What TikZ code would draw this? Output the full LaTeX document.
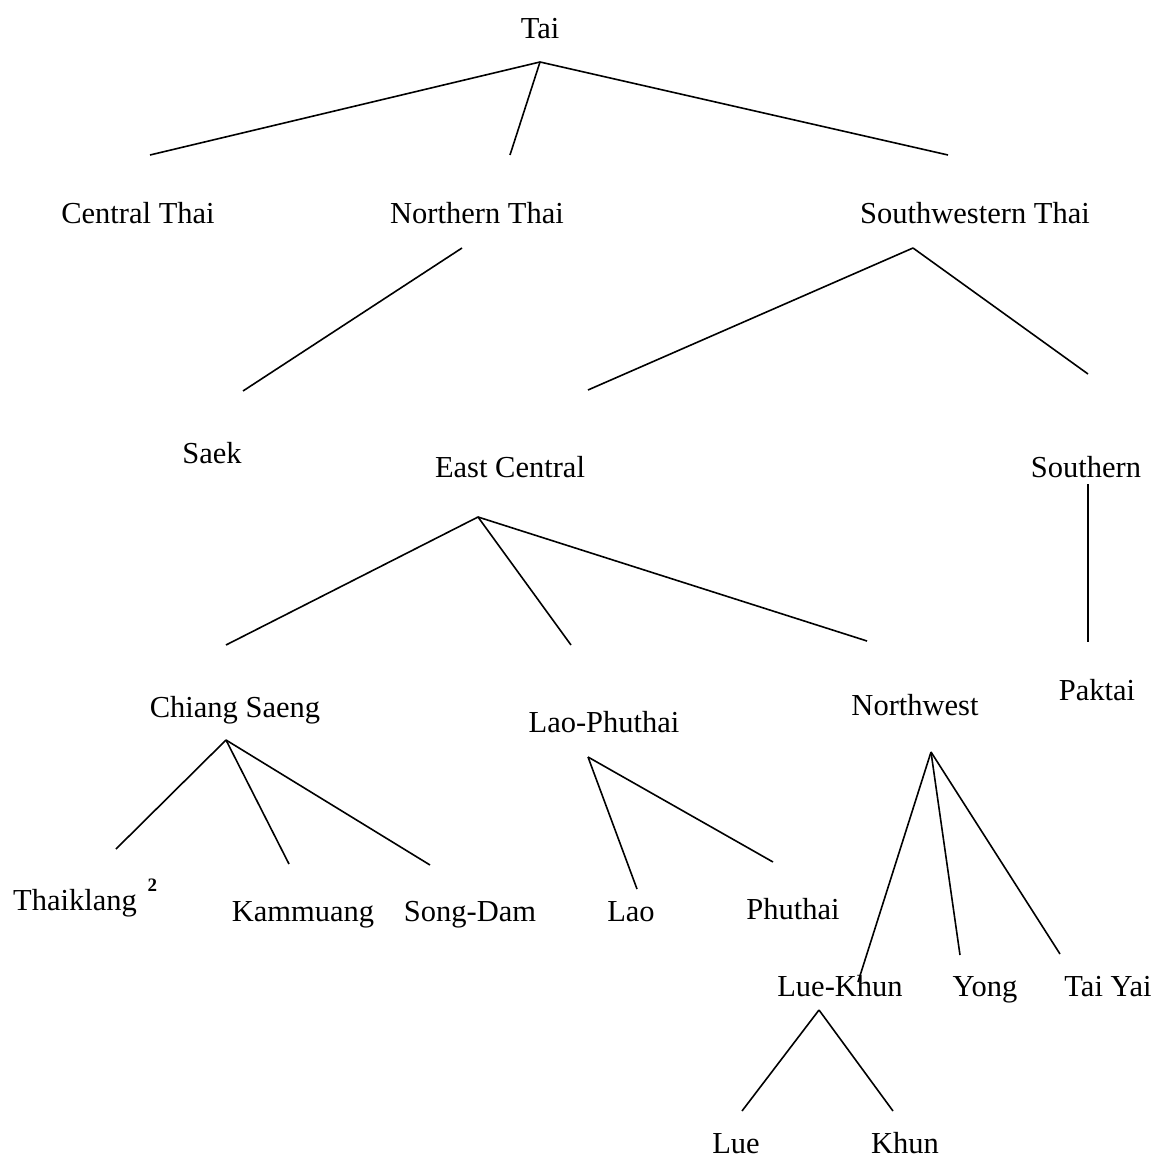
\documentclass[tikz,border=0pt]{standalone}
\usepackage{fontspec}
\setmainfont{Liberation Serif}
\begin{document}
\begin{tikzpicture}[x=1pt,y=-1pt,
  lbl/.style={inner sep=0pt,anchor=base,font=\fontsize{30.5}{33}\selectfont},
  edge/.style={line width=1.6pt}]
\useasboundingbox (0,0) rectangle (1159,1158);
% labels (positioned at their baselines)
\node[lbl] (tai) at (540,39) {Tai};
\node[lbl] (central) at (138,224) {Central Thai};
\node[lbl] (northern) at (477,224) {Northern Thai};
\node[lbl] (sw) at (975,224) {Southwestern Thai};
\node[lbl] (saek) at (212,463) {Saek};
\node[lbl] (east) at (510,477) {East Central};
\node[lbl] (southern) at (1086,477) {Southern};
\node[lbl] (chiang) at (235,717) {Chiang Saeng};
\node[lbl] (laop) at (604,732) {Lao-Phuthai};
\node[lbl] (nw) at (915,715) {Northwest};
\node[lbl] (paktai) at (1097,700) {Paktai};
\node[lbl,anchor=base west] (thaiklang) at (13,910) {Thaiklang\hspace{0.35em}\raisebox{0.6em}{\fontsize{19}{20}\selectfont\bfseries 2}};
\node[lbl] (kam) at (303,921) {Kammuang};
\node[lbl] (song) at (470,921) {Song-Dam};
\node[lbl] (lao) at (631,921) {Lao};
\node[lbl] (phuthai) at (793,919) {Phuthai};
\node[lbl] (luekhun) at (840,996) {Lue-Khun};
\node[lbl] (yong) at (985,996) {Yong};
\node[lbl] (taiyai) at (1108,996) {Tai Yai};
\node[lbl] (lue) at (736,1153) {Lue};
\node[lbl] (khun) at (905,1153) {Khun};
% connector ends
\coordinate (taiR) at (540,62);
\coordinate (c1) at (150,155);
\coordinate (c2) at (510,155);
\coordinate (c3) at (948,155);
\coordinate (ntR) at (462,248);
\coordinate (saekT) at (243,391);
\coordinate (swR) at (913,248);
\coordinate (ecT) at (588,390);
\coordinate (soT) at (1088,374);
\coordinate (soR) at (1088,484);
\coordinate (pkT) at (1088,642);
\coordinate (ecR) at (478,517);
\coordinate (csT) at (226,645);
\coordinate (lpT) at (571,645);
\coordinate (nwT) at (867,641);
\coordinate (csR) at (226,740);
\coordinate (tkT) at (116,849);
\coordinate (kmT) at (289,864);
\coordinate (sdT) at (430,865);
\coordinate (lpR) at (588,757);
\coordinate (laoT) at (637,889);
\coordinate (phT) at (773,862);
\coordinate (nwR) at (931,752);
\coordinate (lkT) at (858,982);
\coordinate (yoT) at (960,955);
\coordinate (tyT) at (1060,954);
\coordinate (lkR) at (819,1010);
\coordinate (lueT) at (742,1111);
\coordinate (khT) at (893,1111);
% connectors
\draw[edge] (taiR) -- (c1);
\draw[edge] (taiR) -- (c2);
\draw[edge] (taiR) -- (c3);
\draw[edge] (ntR) -- (saekT);
\draw[edge] (swR) -- (ecT);
\draw[edge] (swR) -- (soT);
\draw[edge] (soR) -- (pkT);
\draw[edge] (ecR) -- (csT);
\draw[edge] (ecR) -- (lpT);
\draw[edge] (ecR) -- (nwT);
\draw[edge] (csR) -- (tkT);
\draw[edge] (csR) -- (kmT);
\draw[edge] (csR) -- (sdT);
\draw[edge] (lpR) -- (laoT);
\draw[edge] (lpR) -- (phT);
\draw[edge] (nwR) -- (lkT);
\draw[edge] (nwR) -- (yoT);
\draw[edge] (nwR) -- (tyT);
\draw[edge] (lkR) -- (lueT);
\draw[edge] (lkR) -- (khT);
\end{tikzpicture}
\end{document}
